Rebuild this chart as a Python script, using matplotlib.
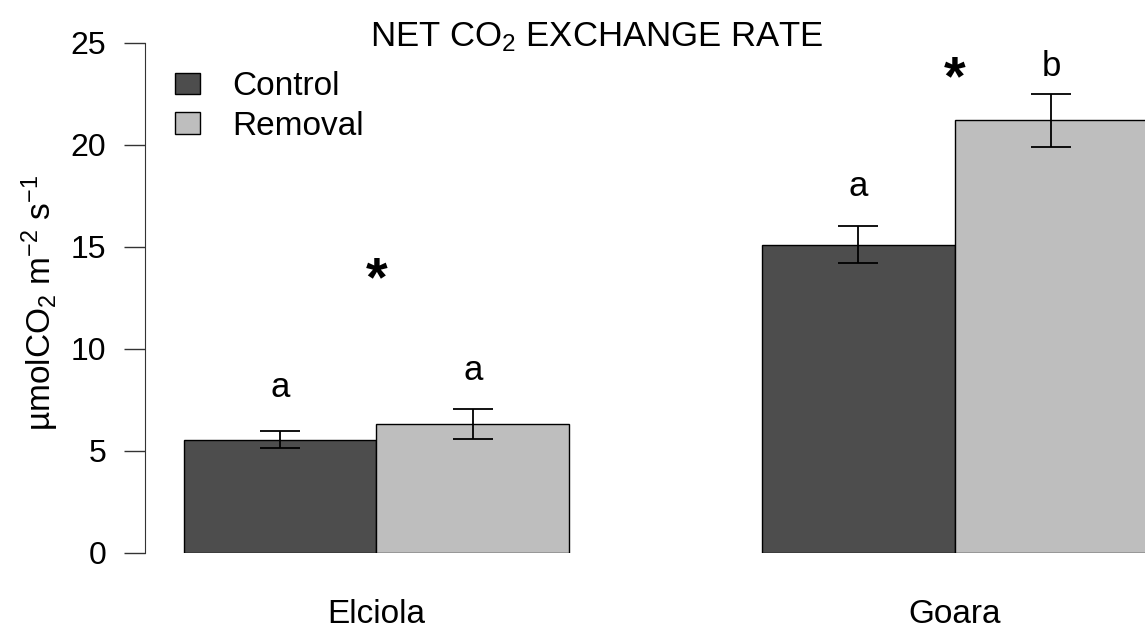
import numpy as np
import matplotlib
matplotlib.use('Agg')
import matplotlib.pyplot as plt
from matplotlib.patches import Patch

plt.rcParams['font.family'] = ['Liberation Sans', 'DejaVu Sans']
plt.rcParams['mathtext.fontset'] = 'custom'
plt.rcParams['mathtext.rm'] = 'Liberation Sans'
plt.rcParams['mathtext.it'] = 'Liberation Sans:italic'
plt.rcParams['mathtext.bf'] = 'Liberation Sans:bold'

# data
sites = ['Elciola', 'Goara']
treatments = ['Control', 'Removal']
control_mean = [5.55, 15.12]
control_se = [0.41, 0.89]
removal_mean = [6.32, 21.21]
removal_se = [0.74, 1.29]
control_letters = ['a', 'a']
removal_letters = ['a', 'b']
# where the letters / asterisks sit (data units, baseline)
control_letter_y = [7.65, 17.5]
removal_letter_y = [8.48, 23.38]
star_y = [12.65, 22.5]

dark = '#4d4d4d'
light = '#bebebe'
fs = 23

W, H = 1145, 633
fig = plt.figure(figsize=(W / 100, H / 100), dpi=100)
# axes in pixel units (R-style plot region, runs off the right edge)
left, right, top, bottom = 145, 1186, 43, 553
ax = fig.add_axes([left / W, 1 - bottom / H, (right - left) / W, (bottom - top) / H])

centers = np.array([2.0, 5.0])
ax.bar(centers - 0.5, control_mean, width=1.0, color=dark, edgecolor='black', linewidth=1)
ax.bar(centers + 0.5, removal_mean, width=1.0, color=light, edgecolor='black', linewidth=1)
ax.errorbar(centers - 0.5, control_mean, yerr=control_se, fmt='none', ecolor='black',
            elinewidth=1.3, capsize=14.4, capthick=1.3)
ax.errorbar(centers + 0.5, removal_mean, yerr=removal_se, fmt='none', ecolor='black',
            elinewidth=1.3, capsize=14.4, capthick=1.3)

for i in range(len(sites)):
    ax.text(centers[i] - 0.5, control_letter_y[i], control_letters[i], ha='center',
            va='baseline', fontsize=25, clip_on=False)
    ax.text(centers[i] + 0.5, removal_letter_y[i], removal_letters[i], ha='center',
            va='baseline', fontsize=25, clip_on=False)
    ax.text(centers[i], star_y[i], '*', ha='center', va='baseline', fontsize=40,
            fontweight='bold', clip_on=False)

ax.set_xlim(0.8, 6.2)
ax.set_ylim(0, 25)
ax.set_yticks([0, 5, 10, 15, 20, 25])
ax.set_xticks(centers)
ax.set_xticklabels(sites, fontsize=24)
ax.tick_params(axis='x', length=0, pad=33)
ax.tick_params(axis='y', length=15, width=1, pad=13, labelsize=fs, color='#333333')
for s in ['top', 'right', 'bottom']:
    ax.spines[s].set_visible(False)
ax.spines['left'].set_bounds(0, 25)
ax.spines['left'].set_color('#333333')

handles = [Patch(facecolor=dark, edgecolor='black', label=treatments[0]),
           Patch(facecolor=light, edgecolor='black', label=treatments[1])]
fig.legend(handles=handles, loc='upper left', bbox_to_anchor=(175 / W, 1 - 71 / H),
           frameon=False, fontsize=24, handlelength=0.75, handleheight=0.6,
           handletextpad=0.96, labelspacing=0.26, borderpad=0, borderaxespad=0)

fig.text(597 / W, 1 - 46 / H, 'NET CO$_2$ EXCHANGE RATE', ha='center', va='baseline',
         fontsize=25)
fig.text(40 / W, 1 - 303 / H, 'µmolCO$_2$ m$^{-2}$ s$^{-1}$', rotation=90,
         ha='center', va='center', fontsize=24)

fig.savefig('out.png', dpi=100)
